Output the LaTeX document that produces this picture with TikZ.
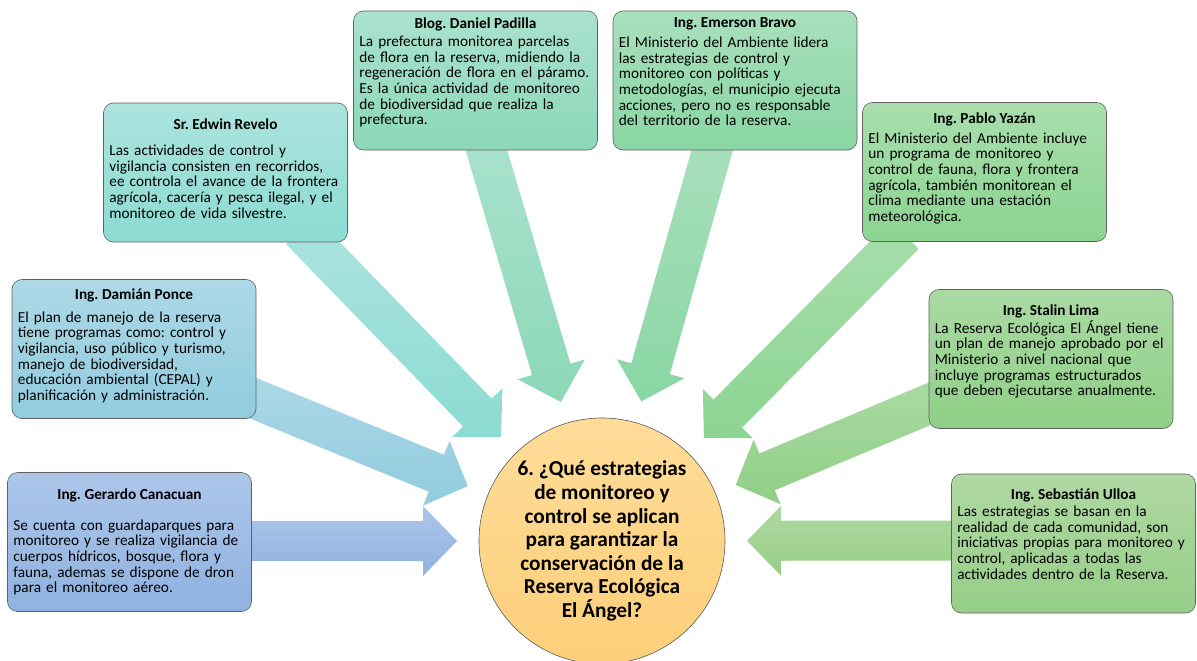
\documentclass[tikz,border=0pt]{standalone}
\usepackage{fontspec}
\setmainfont{Carlito}
\usetikzlibrary{calc, positioning, backgrounds}
\frenchspacing

\definecolor{gerA}{HTML}{ACC6E9}\definecolor{gerB}{HTML}{8FB2E0}
\definecolor{ponA}{HTML}{ADD8E6}\definecolor{ponB}{HTML}{91CCDE}
\definecolor{revA}{HTML}{ACE4DE}\definecolor{revB}{HTML}{8CDBD3}
\definecolor{padA}{HTML}{AAE2CD}\definecolor{padB}{HTML}{8CD8B8}
\definecolor{braA}{HTML}{A8E0BC}\definecolor{braB}{HTML}{8AD6A4}
\definecolor{yazA}{HTML}{A8DEAC}\definecolor{yazB}{HTML}{8CD491}
\definecolor{limA}{HTML}{AADAA3}\definecolor{limB}{HTML}{8FCF87}
\definecolor{ullA}{HTML}{B0D8A3}\definecolor{ullB}{HTML}{96CE87}
\definecolor{preA}{HTML}{FEDC98}\definecolor{preB}{HTML}{FCCF7A}

% flecha de bloque desde (#1-a) hasta la punta (#1-p)
\newcommand{\flecha}[3]{%
  \coordinate (h) at ($(#1-p)!34pt!(#1-a)$);
  \path[top color=#2, bottom color=#3]
    ($(#1-a)!20pt!90:(#1-p)$) -- ($(h)!20pt!90:(#1-p)$) -- ($(h)!35pt!90:(#1-p)$) -- (#1-p)
    -- ($(h)!35pt!-90:(#1-p)$) -- ($(h)!20pt!-90:(#1-p)$) -- ($(#1-a)!20pt!-90:(#1-p)$) -- cycle;
}

\tikzset{
  caja/.style={rectangle, rounded corners=10pt, draw=gray!75!black, line width=0.6pt,
    minimum width=244pt, minimum height=139pt, inner sep=0pt},
  titulo/.style={anchor=base, inner sep=0pt, font=\bfseries\fontsize{15.3}{15.6}\selectfont},
  texto/.style={anchor=base west, inner sep=0pt, text width=260pt, align=left,
    font=\fontsize{15.3}{15.6}\selectfont},
}

\begin{document}
\begin{tikzpicture}[x=1pt, y=-1pt]
    \useasboundingbox (0,0) rectangle (1197,661);

    % Pregunta central
    \node[circle, draw=gray!70!black, line width=0.6pt, top color=preA, bottom color=preB, minimum size=246pt, inner sep=0pt, align=center, font=\bfseries\fontsize{21.3}{23.6}\selectfont] (pregunta) at (602,541) {6. ¿Qué estrategias\\de monitoreo y\\control se aplican\\para garantizar la\\conservación de la\\Reserva Ecológica\\El Ángel?};

    % Sr. Edwin Revelo
    \node[caja, top color=revA, bottom color=revB] (revelo) at (225.5,172.5) {};
    \node[titulo] (revelo-t) at ($(revelo.north)+(0,27)$) {Sr. Edwin Revelo};
    \node[texto] (revelo-c) at ($(revelo.north west)+(6,53)$) {Las actividades de control y\\vigilancia consisten en recorridos,\\ee controla el avance de la frontera\\agrícola, cacería y pesca ilegal, y el\\monitoreo de vida silvestre.};

    % Blog. Daniel Padilla
    \node[caja, top color=padA, bottom color=padB] (padilla) at (475.5,80.5) {};
    \node[titulo] (padilla-t) at ($(padilla.north)+(0,18)$) {Blog. Daniel Padilla};
    \node[texto] (padilla-c) at ($(padilla.north west)+(6,36)$) {La prefectura monitorea parcelas\\de flora en la reserva, midiendo la\\regeneración de flora en el páramo.\\Es la única actividad de monitoreo\\de biodiversidad que realiza la\\prefectura.};

    % Ing. Emerson Bravo
    \node[caja, top color=braA, bottom color=braB] (bravo) at (735,80.5) {};
    \node[titulo] (bravo-t) at ($(bravo.north)+(0,17)$) {Ing. Emerson Bravo};
    \node[texto] (bravo-c) at ($(bravo.north west)+(6,37)$) {El Ministerio del Ambiente lidera\\las estrategias de control y\\monitoreo con políticas y\\metodologías, el municipio ejecuta\\acciones, pero no es responsable\\del territorio de la reserva.};

    % Ing. Pablo Yazán
    \node[caja, top color=yazA, bottom color=yazB] (yazan) at (984.5,172) {};
    \node[titulo] (yazan-t) at ($(yazan.north)+(0,21)$) {Ing. Pablo Yazán};
    \node[texto] (yazan-c) at ($(yazan.north west)+(6,41)$) {El Ministerio del Ambiente incluye\\un programa de monitoreo y\\control de fauna, flora y frontera\\agrícola, también monitorean el\\clima mediante una estación\\meteorológica.};

    % Ing. Stalin Lima
    \node[caja, top color=limA, bottom color=limB] (lima) at (1051,359) {};
    \node[titulo] (lima-t) at ($(lima.north)+(0,26)$) {Ing. Stalin Lima};
    \node[texto] (lima-c) at ($(lima.north west)+(6,44)$) {La Reserva Ecológica El Ángel tiene\\un plan de manejo aprobado por el\\Ministerio a nivel nacional que\\incluye programas estructurados\\que deben ejecutarse anualmente.};

    % Ing. Sebastián Ulloa
    \node[caja, top color=ullA, bottom color=ullB] (ulloa) at (1073.5,543.5) {};
    \node[titulo] (ulloa-t) at ($(ulloa.north)+(0,26)$) {Ing. Sebastián Ulloa};
    \node[texto] (ulloa-c) at ($(ulloa.north west)+(6,43)$) {Las estrategias se basan en la\\realidad de cada comunidad, son\\iniciativas propias para monitoreo y\\control, aplicadas a todas las\\actividades dentro de la Reserva.};

    % Ing. Damián Ponce
    \node[caja, top color=ponA, bottom color=ponB] (ponce) at (134,349) {};
    \node[titulo] (ponce-t) at ($(ponce.north)+(0,20)$) {Ing. Damián Ponce};
    \node[texto] (ponce-c) at ($(ponce.north west)+(6,43)$) {El plan de manejo de la reserva\\tiene programas como: control y\\vigilancia, uso público y turismo,\\manejo de biodiversidad,\\educación ambiental (CEPAL) y\\planificación y administración.};

    % Ing. Gerardo Canacuan
    \node[caja, top color=gerA, bottom color=gerB] (gerardo) at (129.5,542) {};
    \node[titulo] (gerardo-t) at ($(gerardo.north)+(0,27)$) {Ing. Gerardo Canacuan};
    \node[texto] (gerardo-c) at ($(gerardo.north west)+(6,58)$) {Se cuenta con guardaparques para\\monitoreo y se realiza vigilancia de\\cuerpos hídricos, bosque, flora y\\fauna, ademas se dispone de dron\\para el monitoreo aéreo.};

    % Flechas hacia la pregunta
    \coordinate (revelo-a) at ($(revelo.south)+(75,-12)$);
    \coordinate (padilla-a) at ($(padilla.south)+(8,-10)$);
    \coordinate (bravo-a) at ($(bravo.south)+(-20,-10)$);
    \coordinate (yazan-a) at ($(yazan.south)+(-80,-7)$);
    \coordinate (lima-a) at ($(lima.west)+(10,41)$);
    \coordinate (ulloa-a) at ($(ulloa.west)+(6,-3)$);
    \coordinate (ponce-a) at ($(ponce.east)+(-16,44)$);
    \coordinate (gerardo-a) at ($(gerardo.east)+(-6,-1)$);
    \foreach \n in {revelo,padilla,bravo,yazan,lima,ulloa,ponce,gerardo}
        \coordinate (\n-p) at ($(pregunta.center)!145pt!(\n-a)$);

    \begin{scope}[on background layer]
        \flecha{revelo}{revA}{revB}
        \flecha{padilla}{padA}{padB}
        \flecha{bravo}{braA}{braB}
        \flecha{yazan}{yazA}{yazB}
        \flecha{lima}{limA}{limB}
        \flecha{ulloa}{ullA}{ullB}
        \flecha{ponce}{ponA}{ponB}
        \flecha{gerardo}{gerA}{gerB}
    \end{scope}
\end{tikzpicture}
\end{document}
